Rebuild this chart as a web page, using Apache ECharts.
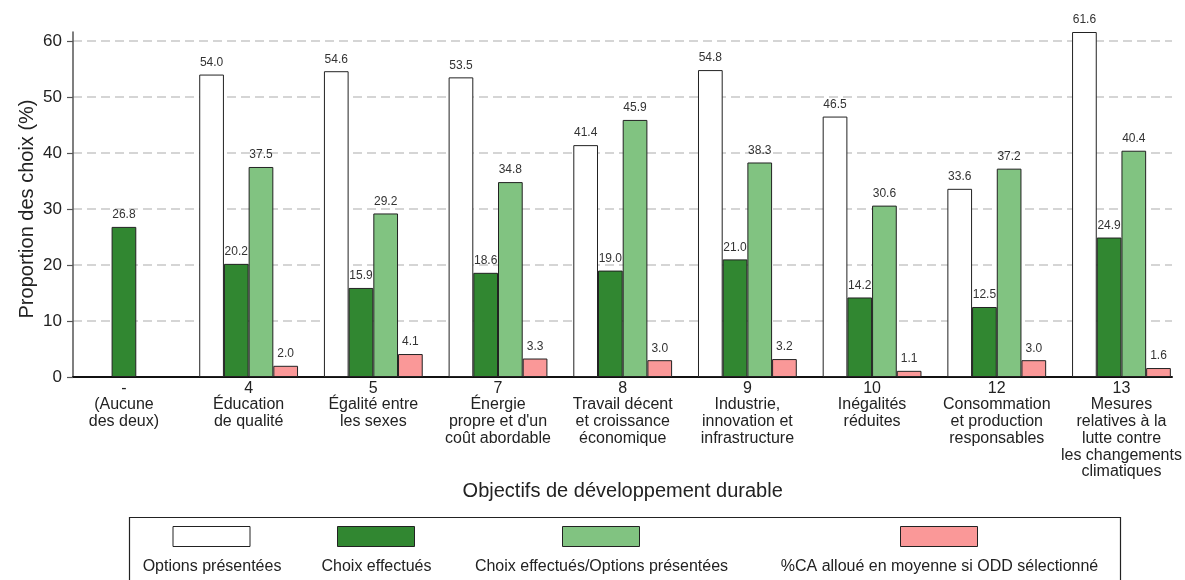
<!DOCTYPE html>
<html>
<head>
<meta charset="utf-8">
<script src="https://cdn.jsdelivr.net/npm/echarts@6/dist/echarts.min.js"></script>
<style>
html,body{margin:0;padding:0;background:#fff;}
#chart{width:1185px;height:580px;}
</style>
</head>
<body>
<div id="chart"></div>
<script>
// ---- Data ----
const categoryCodes = ['-', '4', '5', '7', '8', '9', '10', '12', '13'];
const categoryNames = [
  '(Aucune\ndes deux)',
  'Éducation\nde qualité',
  'Égalité entre\nles sexes',
  'Énergie\npropre et d\'un\ncoût abordable',
  'Travail décent\net croissance\néconomique',
  'Industrie,\ninnovation et\ninfrastructure',
  'Inégalités\nréduites',
  'Consommation\net production\nresponsables',
  'Mesures\nrelatives à la\nlutte contre\nles changements\nclimatiques'
];
const optionsPresentees = [null, 54.0, 54.6, 53.5, 41.4, 54.8, 46.5, 33.6, 61.6];
const choixEffectues   = [26.8, 20.2, 15.9, 18.6, 19.0, 21.0, 14.2, 12.5, 24.9];
const ratioChoix       = [null, 37.5, 29.2, 34.8, 45.9, 38.3, 30.6, 37.2, 40.4];
const caAlloue         = [null, 2.0, 4.1, 3.3, 3.0, 3.2, 1.1, 3.0, 1.6];
const yTicks = [0, 10, 20, 30, 40, 50, 60];
const seriesNames = ['Options présentées', 'Choix effectués', 'Choix effectués/Options présentées', '%CA alloué en moyenne si ODD sélectionné'];

// ---- Build ----
const FONT = '"Liberation Sans", Arial, sans-serif';
const colors = ['#ffffff', '#318731', '#81c381', '#fa9898'];
const categories = categoryCodes.map((c, i) => c + '\n' + categoryNames[i]);
const yMax = Math.max(...optionsPresentees.filter(v => v != null));
const tickMax = yTicks[yTicks.length - 1];

const choixMain = choixEffectues.map((v, i) => optionsPresentees[i] == null ? null : v);
const choixAlone = choixEffectues.map((v, i) => optionsPresentees[i] == null ? v : null);

// plot geometry
const PLOT_TOP = 32, PLOT_BOTTOM = 203, PLOT_H = 580 - PLOT_TOP - PLOT_BOTTOM;
const tickTop = PLOT_TOP + PLOT_H * (1 - tickMax / yMax);

const BW = 24.7;
const labelCfg = {
  show: true, position: 'top', distance: 6,
  fontSize: 12, color: '#333', fontFamily: FONT,
  formatter: p => (p.value == null ? '' : Number(p.value).toFixed(1))
};
function barSeries(name, data, color, xi) {
  return {
    type: 'bar', name: name, data: data,
    xAxisIndex: xi, yAxisIndex: 1,
    barWidth: BW, barGap: '0%',
    itemStyle: { color: color, borderColor: '#222', borderWidth: 1 },
    label: labelCfg,
    emphasis: { disabled: true },
    animation: false
  };
}

// text measurement for centered legend labels
const cv = document.createElement('canvas').getContext('2d');
const LFS = 16;
cv.font = LFS + 'px ' + FONT;
const swatchCenters = [211, 375.5, 600.5, 938.5];
const SW = 77;
const legends = [];
seriesNames.forEach((n, i) => {
  legends.push({
    data: [n], left: swatchCenters[i] - SW / 2, top: 526, padding: 0,
    itemWidth: SW, itemHeight: 20, icon: 'rect',
    itemStyle: { borderColor: '#222', borderWidth: 1 },
    formatter: () => '', selectedMode: false,
    textStyle: { fontSize: 1 }
  });
  const w = cv.measureText(n).width;
  legends.push({
    data: [n], left: swatchCenters[i] - w / 2 - 5, top: 559, padding: 0,
    itemWidth: 0, itemHeight: 0, icon: 'rect', selectedMode: false,
    itemStyle: { opacity: 0 },
    textStyle: { fontSize: LFS, color: '#222', fontFamily: FONT }
  });
});

const option = {
  animation: false,
  backgroundColor: '#fff',
  textStyle: { fontFamily: FONT },
  grid: [
    { left: 73, right: 13, top: PLOT_TOP, bottom: PLOT_BOTTOM },
    { left: 61.6, width: 1122.2, top: PLOT_TOP, bottom: PLOT_BOTTOM },
    { left: 73, right: 13, top: tickTop, bottom: PLOT_BOTTOM }
  ],
  legend: legends,
  xAxis: [
    { type: 'category', gridIndex: 0, data: categories,
      axisLine: { show: true, lineStyle: { color: '#111', width: 2 } },
      axisTick: { show: false }, axisLabel: { show: false }, splitLine: { show: false } },
    { type: 'category', gridIndex: 1, data: categories,
      axisLine: { show: false }, axisTick: { show: false },
      axisLabel: { interval: 0, fontSize: 16, lineHeight: 16.7, color: '#222', margin: 3, fontFamily: FONT },
      name: 'Objectifs de développement durable', nameLocation: 'middle', nameGap: 104,
      nameMoveOverlap: false,
      nameTextStyle: { fontSize: 20, color: '#222', fontFamily: FONT } },
    { type: 'category', gridIndex: 1, data: categories, show: false },
    { type: 'category', gridIndex: 2, data: categories, show: false }
  ],
  yAxis: [
    { type: 'value', gridIndex: 0, min: 0, max: yMax,
      axisLine: { show: true, lineStyle: { color: '#555', width: 1.5 } },
      axisTick: { show: false }, axisLabel: { show: false }, splitLine: { show: false } },
    { type: 'value', gridIndex: 1, min: 0, max: yMax, show: false },
    { type: 'value', gridIndex: 2, min: yTicks[0], max: tickMax, interval: yTicks[1] - yTicks[0],
      axisLine: { show: false },
      axisTick: { show: true, length: 6, lineStyle: { color: '#555', width: 1.2 } },
      axisLabel: { fontSize: 17, color: '#222', margin: 11, fontFamily: FONT },
      splitLine: { show: true, lineStyle: { color: '#c8c8c8', width: 1.5, type: [9, 5] } },
      name: 'Proportion des choix (%)', nameLocation: 'middle', nameGap: 36, nameRotate: 90,
      nameMoveOverlap: false,
      nameTextStyle: { fontSize: 20, color: '#222', fontFamily: FONT } }
  ],
  series: [
    barSeries(seriesNames[0], optionsPresentees, colors[0], 1),
    barSeries(seriesNames[1], choixMain, colors[1], 1),
    barSeries(seriesNames[2], ratioChoix, colors[2], 1),
    barSeries(seriesNames[3], caAlloue, colors[3], 1),
    barSeries(seriesNames[1], choixAlone, colors[1], 2)
  ],
  graphic: [
    { type: 'rect', left: 127, top: 515, shape: { width: 991, height: 75 },
      style: { fill: 'none', stroke: '#222', lineWidth: 1.2 }, silent: true, z: -1 }
  ]
};

const chart = echarts.init(document.getElementById('chart'), null, { renderer: 'canvas' });
chart.setOption(option);
</script>
</body>
</html>
